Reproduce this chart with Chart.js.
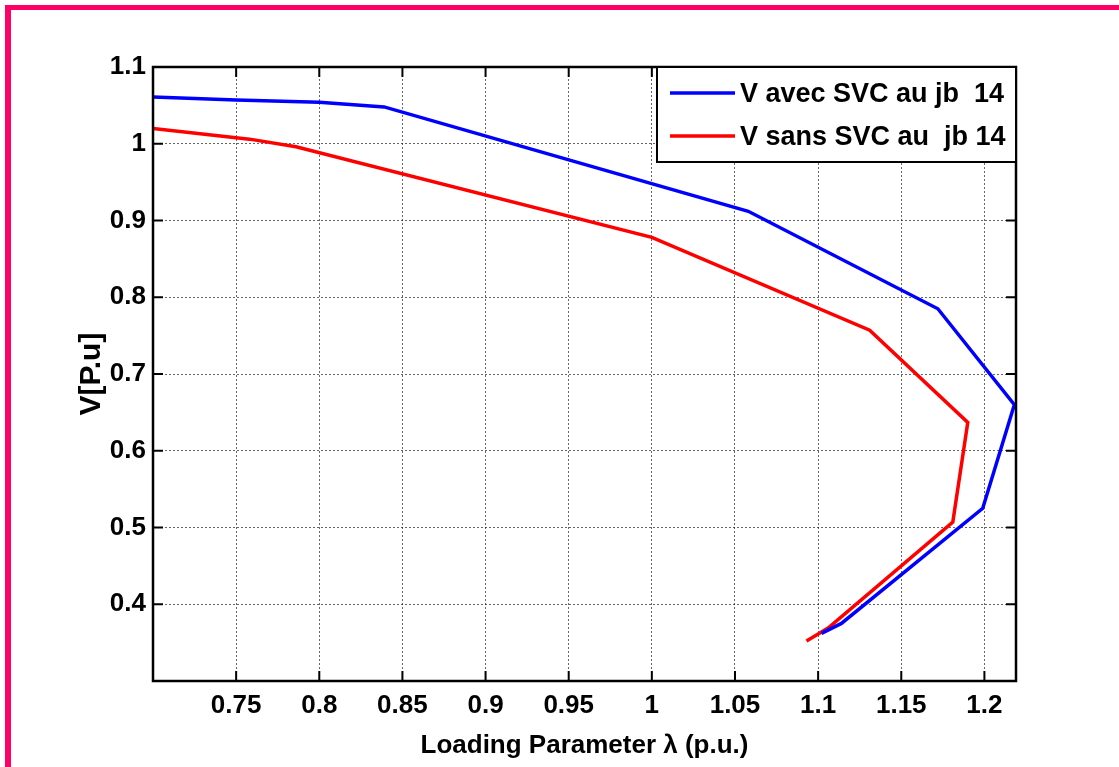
<!DOCTYPE html>
<html>
<head>
<meta charset="utf-8">
<script src="https://cdn.jsdelivr.net/npm/chart.js@4.4.0/dist/chart.umd.min.js"></script>
<style>
  html, body { margin: 0; padding: 0; background: #fff; }
  #wrap { position: relative; width: 1119px; height: 767px; }
  #frame {
    position: absolute; left: 5px; top: 5px; right: 0; bottom: 0;
    border-left: 6px solid #ff0066; border-top: 5px solid #ff0066;
    pointer-events: none;
  }
</style>
</head>
<body>
<div id="wrap">
  <canvas id="graphPV" width="1119" height="767"></canvas>
  <div id="frame"></div>
</div>
<script>
const lambdaAvec = [0.700, 0.750, 0.800, 0.839, 1.058, 1.172, 1.218, 1.199, 1.114, 1.102];
const vAvec      = [1.061, 1.057, 1.054, 1.048, 0.912, 0.785, 0.660, 0.525, 0.375, 0.362];

const lambdaSans = [0.700, 0.758, 0.786, 1.000, 1.131, 1.190, 1.181, 1.106, 1.093];
const vSans      = [1.020, 1.006, 0.996, 0.878, 0.757, 0.637, 0.507, 0.369, 0.352];

const xTicks = [0.75, 0.8, 0.85, 0.9, 0.95, 1, 1.05, 1.1, 1.15, 1.2];
const yTicks = [0.4, 0.5, 0.6, 0.7, 0.8, 0.9, 1, 1.1];

const fontMain = 'Liberation Sans, Arial, sans-serif';

// Cadre, graduations vers l'intérieur et légende dans la zone du graphe
const matlabBox = {
  id: 'matlabBox',
  afterDraw(chart) {
    const { ctx, chartArea: a, scales: { x, y } } = chart;
    ctx.save();
    ctx.strokeStyle = '#000';
    ctx.lineWidth = 2;
    ctx.beginPath();
    xTicks.forEach(v => {
      const px = x.getPixelForValue(v);
      ctx.moveTo(px, a.bottom); ctx.lineTo(px, a.bottom - 10);
      ctx.moveTo(px, a.top); ctx.lineTo(px, a.top + 10);
    });
    yTicks.forEach(v => {
      const py = y.getPixelForValue(v);
      ctx.moveTo(a.left, py); ctx.lineTo(a.left + 10, py);
      ctx.moveTo(a.right, py); ctx.lineTo(a.right - 10, py);
    });
    ctx.stroke();
    ctx.lineWidth = 2.5;
    ctx.strokeRect(a.left, a.top, a.right - a.left, a.bottom - a.top);

    // légende
    const lx = 657, ly = a.top, lw = a.right - 657, lh = 95;
    ctx.fillStyle = '#fff';
    ctx.fillRect(lx, ly, lw, lh);
    ctx.lineWidth = 2;
    ctx.strokeRect(lx, ly, lw, lh);
    ctx.font = 'bold 27px ' + fontMain;
    ctx.textBaseline = 'middle';
    const rows = [26, 69];
    chart.data.datasets.forEach((ds, i) => {
      const yy = ly + rows[i];
      ctx.strokeStyle = ds.borderColor;
      ctx.lineWidth = 3.5;
      ctx.beginPath();
      ctx.moveTo(670, yy); ctx.lineTo(735, yy);
      ctx.stroke();
      ctx.fillStyle = '#000';
      ctx.fillText(ds.label, 740, yy + 2);
    });
    ctx.restore();
  }
};

const chartPV = new Chart(document.getElementById('graphPV').getContext('2d'), {
  type: 'scatter',
  data: {
    datasets: [
      {
        label: 'V avec SVC au jb  14',
        data: lambdaAvec.map((l, i) => ({ x: l, y: vAvec[i] })),
        borderColor: '#0000ff',
        backgroundColor: '#0000ff',
        showLine: true,
        borderWidth: 3.5,
        pointRadius: 0,
        tension: 0
      },
      {
        label: 'V sans SVC au  jb 14',
        data: lambdaSans.map((l, i) => ({ x: l, y: vSans[i] })),
        borderColor: '#ff0000',
        backgroundColor: '#ff0000',
        showLine: true,
        borderWidth: 3.5,
        pointRadius: 0,
        tension: 0
      }
    ]
  },
  options: {
    responsive: false,
    animation: false,
    layout: { padding: { left: 0, top: 67, right: 103, bottom: 0 } },
    scales: {
      x: {
        type: 'linear',
        min: 0.7,
        max: 1.219,
        afterBuildTicks: s => { s.ticks = xTicks.map(v => ({ value: v })); },
        afterFit: s => { s.height = 86; },
        border: { display: false, dash: [2, 2] },
        grid: { color: 'rgba(0,0,0,0.6)', lineWidth: 1, drawTicks: false },
        ticks: {
          padding: 9,
          color: '#000',
          maxRotation: 0,
          autoSkip: false,
          font: { family: fontMain, size: 26, weight: 'bold' },
          callback: v => String(+v.toFixed(2))
        },
        title: {
          display: true,
          text: 'Loading Parameter λ (p.u.)',
          color: '#000',
          font: { family: fontMain, size: 26, weight: 'bold' },
          padding: { top: 0, bottom: 6 }
        }
      },
      y: {
        type: 'linear',
        min: 0.3,
        max: 1.1,
        afterBuildTicks: s => { s.ticks = yTicks.map(v => ({ value: v })); },
        afterFit: s => { s.width = 153; },
        border: { display: false, dash: [2, 2] },
        grid: { color: 'rgba(0,0,0,0.6)', lineWidth: 1, drawTicks: false },
        ticks: {
          padding: 7,
          color: '#000',
          autoSkip: false,
          font: { family: fontMain, size: 26, weight: 'bold' },
          callback: v => String(+v.toFixed(2))
        },
        title: {
          display: true,
          text: 'V[P.u]',
          color: '#000',
          font: { family: fontMain, size: 30, weight: 'bold' },
          padding: { top: 74, bottom: 0 }
        }
      }
    },
    plugins: {
      legend: { display: false },
      tooltip: { enabled: false }
    }
  },
  plugins: [matlabBox]
});
</script>
</body>
</html>
